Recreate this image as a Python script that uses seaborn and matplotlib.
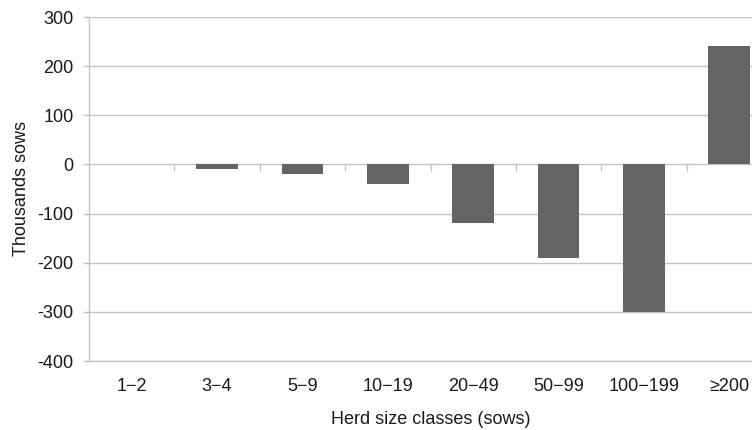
import matplotlib
matplotlib.use("Agg")
import matplotlib.pyplot as plt
import seaborn as sns
import pandas as pd

# Change in number of sows by herd size class (thousands)
classes = ["1\u22122", "3\u22124", "5\u22129", "10\u221219", "20\u221249",
           "50\u221299", "100\u2212199", "\u2265200"]
change_thousands = [0, -10, -20, -40, -120, -190, -300, 240]
y_ticks = [-400, -300, -200, -100, 0, 100, 200, 300]

df = pd.DataFrame({"herd_class": classes, "change": change_thousands})

sns.set_style("white")
plt.rcParams["font.family"] = ["Liberation Sans", "DejaVu Sans"]

text_color = "#1a1a1a"
grid_color = "#c4c4c4"
fs = 13

fig = plt.figure(figsize=(7.52, 4.30), dpi=100)
ax = fig.add_axes([89 / 752, 1 - 361 / 430, 683 / 752, 344 / 430])

sns.barplot(data=df, x="herd_class", y="change", order=classes,
            color="#646464", saturation=1, width=0.49,
            linewidth=0, ax=ax, zorder=3)

n = len(classes)
ax.set_xlim(-0.5, n - 0.5)
ax.set_ylim(-400, 300)
ax.set_yticks(y_ticks)
ax.set_yticklabels([str(v) for v in y_ticks])

ax.yaxis.grid(True, color=grid_color, linewidth=1.0, zorder=0)
ax.xaxis.grid(False)
ax.set_axisbelow(True)

for side in ["top", "right"]:
    ax.spines[side].set_visible(False)
for side in ["left", "bottom"]:
    ax.spines[side].set_color(grid_color)
    ax.spines[side].set_linewidth(1.0)

ax.tick_params(axis="y", length=4, width=1.0, color=grid_color, pad=7,
               labelsize=fs, labelcolor=text_color, left=True)
ax.tick_params(axis="x", length=0, pad=12, labelsize=fs,
               labelcolor=text_color)

# category separators hanging below the zero line
zero_pos = (0 - (-400)) / 700
sec = ax.secondary_xaxis(zero_pos)
sec.set_xticks([i + 0.5 for i in range(n - 1)])
sec.set_xticklabels([])
sec.tick_params(axis="x", direction="in", length=5, width=1.0,
                color=grid_color)
sec.spines["bottom"].set_visible(False)
sec.spines["top"].set_visible(False)

ax.set_xlabel("Herd size classes (sows)", fontsize=fs, color=text_color)
ax.set_ylabel("Thousands sows", fontsize=fs, color=text_color)
ax.xaxis.set_label_coords(0.5, -(411 - 361) / 344)
ax.yaxis.set_label_coords((30 - 89) / 683, 0.5)

fig.savefig("out.png", dpi=100)
